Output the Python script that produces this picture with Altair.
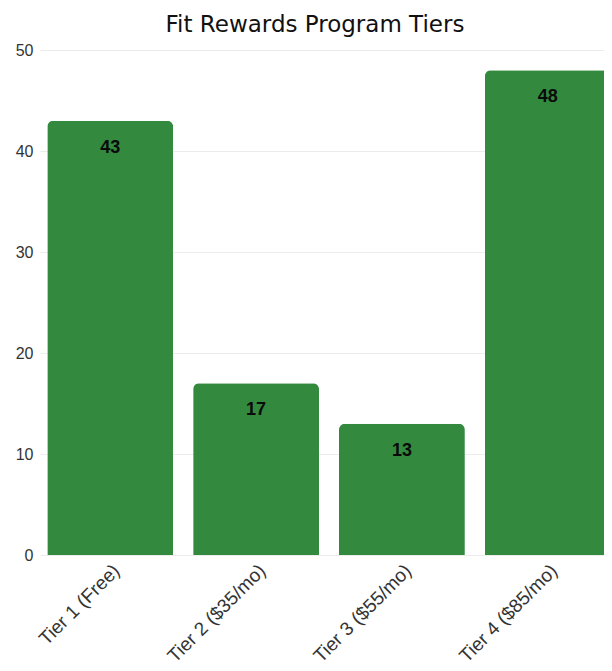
import altair as alt
import pandas as pd

tiers = ["Tier 1 (Free)", "Tier 2 ($35/mo)", "Tier 3 ($55/mo)", "Tier 4 ($85/mo)"]
values = [43, 17, 13, 48]

df = pd.DataFrame({"tier": tiers, "value": values})

base = alt.Chart(df).encode(
    x=alt.X("tier:N", sort=tiers, title=None,
            scale=alt.Scale(paddingInner=0.137, paddingOuter=0.05),
            axis=alt.Axis(labelAngle=-45, labelAlign="right", labelBaseline="top",
                          labelFontSize=19, labelColor="#333", labelFont="Liberation Sans",
                          ticks=False, domain=False, labelPadding=6)),
    y=alt.Y("value:Q", title=None, scale=alt.Scale(domain=[0, 50]),
            axis=alt.Axis(values=[0, 10, 20, 30, 40, 50], labelFontSize=16, labelColor="#333",
                          labelFont="Liberation Sans", ticks=False, domain=False,
                          labelPadding=7, gridColor="#ececec")),
)

bars = base.mark_bar(color="#338a3f", cornerRadiusTopLeft=6, cornerRadiusTopRight=6)
labels = base.mark_text(baseline="top", dy=18, fontSize=18, fontWeight="bold",
                        font="Liberation Sans", color="#0a0a0a").encode(text="value:Q")

chart = (bars + labels).properties(
    width=578, height=505,
    title=alt.TitleParams("Fit Rewards Program Tiers", fontSize=23, fontWeight="normal",
                          font="DejaVu Sans", color="#111", anchor="middle", offset=5, dx=-14),
    autosize=alt.AutoSizeParams(type="none"),
    padding={"left": 32, "top": 42, "right": -14, "bottom": 116},
).configure_view(stroke=None)

chart.save("out.html", embed_options={"renderer": "svg", "actions": False})
